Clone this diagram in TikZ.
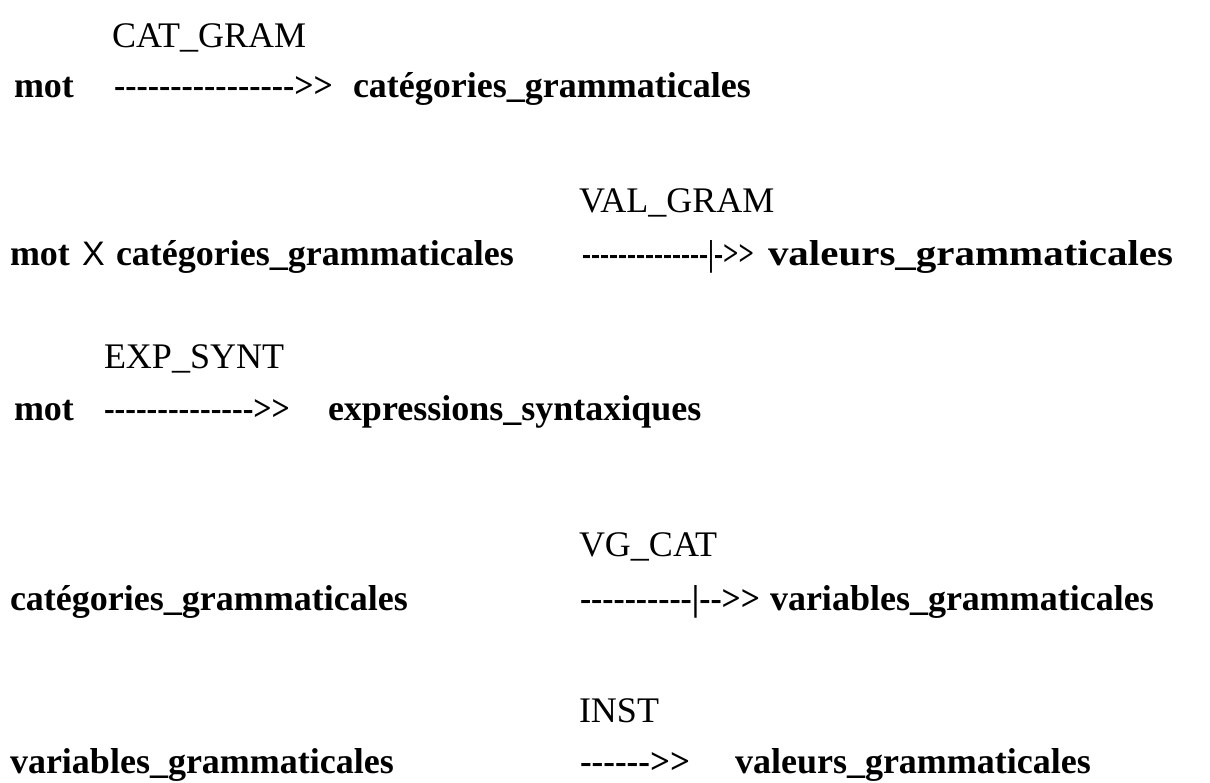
\documentclass[tikz,border=0pt]{standalone}
\usepackage{fontspec}
\usepackage{graphicx}
\setmainfont[Ligatures=TeXOff]{Liberation Serif}
\newfontfamily\crossfont{Liberation Sans}
% set a dash run to a given width, keeping its height
\newcommand\fitto[2]{\resizebox{#1pt}{\height}{#2}}
\begin{document}
\begin{tikzpicture}[x=1pt,y=-1pt,
  txt/.style={anchor=base west,inner sep=0pt,outer sep=0pt,
              font=\fontsize{36}{40}\selectfont\bfseries},
  lbl/.style={txt,font=\fontsize{36}{40}\selectfont}]
\useasboundingbox (0,0) rectangle (1210,782);

% CAT_GRAM
\node[lbl] (catgram) at (112,47) {CAT\_GRAM};
\node[txt] (mota) at (14,97) {mot};
\node[txt] (arra) at (114,97) {\fitto{219}{---------------->>}};
\node[txt] (cata) at (353,97) {catégories\_grammaticales};

% VAL_GRAM
\node[lbl] (valgram) at (579,212) {VAL\_GRAM};
\node[txt] (motb) at (10,265) {mot};
\node[txt,font=\fontsize{34}{40}\crossfont] (cross) at (82,265) {X};
\node[txt] (catb) at (116,265) {catégories\_grammaticales};
\node[txt] (arrb) at (582,265) {\fitto{172}{--------------|->>}};
\node[txt] (valb) at (768,265) {\fitto{405}{valeurs\_grammaticales}};

% EXP_SYNT
\node[lbl] (expsynt) at (104,368) {EXP\_SYNT};
\node[txt] (motc) at (14,420) {mot};
\node[txt] (arrc) at (104,420) {\fitto{186}{-------------->>}};
\node[txt] (expc) at (328,420) {expressions\_syntaxiques};

% VG_CAT
\node[lbl] (vgcat) at (579,556) {VG\_CAT};
\node[txt] (catd) at (10,610) {catégories\_grammaticales};
\node[txt] (arrd) at (580,610) {\fitto{180}{----------|-->>}};
\node[txt] (vard) at (770,610) {variables\_grammaticales};

% INST
\node[lbl] (inst) at (579,722) {INST};
\node[txt] (vare) at (10,773) {variables\_grammaticales};
\node[txt] (arre) at (580,773) {\fitto{110}{------>>}};
\node[txt] (vale) at (735,773) {valeurs\_grammaticales};
\end{tikzpicture}
\end{document}
